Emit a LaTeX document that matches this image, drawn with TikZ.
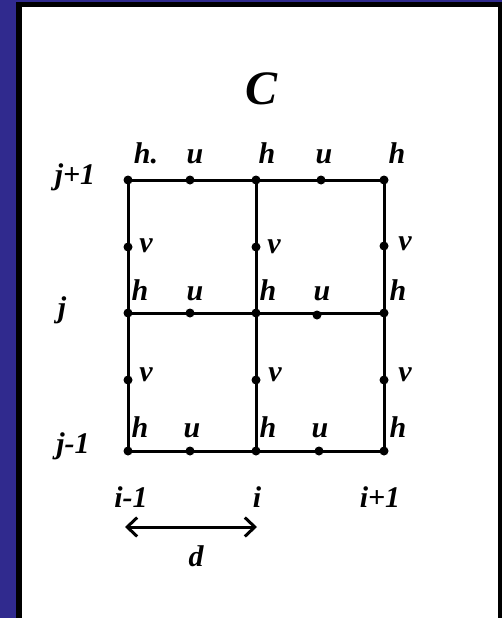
\documentclass[tikz,border=0pt]{standalone}
\usepackage{fontspec}
\setmainfont{Liberation Serif}
\usetikzlibrary{arrows.meta}
\definecolor{bluebg}{RGB}{48,42,142}
\begin{document}
\begin{tikzpicture}[x=1pt,y=-1pt,
  lbl/.style={font=\fontsize{30}{30}\selectfont\bfseries\itshape, inner sep=0pt},
  lblb/.style={lbl, anchor=base},
  dot/.style={circle, fill=black, inner sep=0pt, minimum size=9pt},
  gridline/.style={line width=3pt, line cap=round, line join=round}]
\useasboundingbox (0,0) rectangle (502,618);
\fill[bluebg] (0,0) rectangle (502,618);
\fill[black] (16,2) rectangle (502,618);
\fill[white] (22,7) rectangle (498,618);

% grid points
\node[dot] (a1) at (128,180) {};
\node[dot] (b1) at (256,180) {};
\node[dot] (c1) at (384,180) {};
\node[dot] (a2) at (128,313) {};
\node[dot] (b2) at (256,313) {};
\node[dot] (c2) at (384,313) {};
\node[dot] (a3) at (128,451) {};
\node[dot] (b3) at (256,451) {};
\node[dot] (c3) at (384,451) {};

\draw[gridline] (a1.center) -- (c1.center) -- (c3.center) -- (a3.center) -- cycle;
\draw[gridline] (a2.center) -- (c2.center);
\draw[gridline] (b1.center) -- (b3.center);

% u points
\node[dot] (u11) at (190,180) {};
\node[dot] (u21) at (321,180) {};
\node[dot] (u12) at (190,313) {};
\node[dot] (u22) at (317,315) {};
\node[dot] (u13) at (190,451) {};
\node[dot] (u23) at (319,451) {};
% v points
\node[dot] (v11) at (128,247) {};
\node[dot] (v21) at (256,247) {};
\node[dot] (v31) at (384,246) {};
\node[dot] (v12) at (128,380) {};
\node[dot] (v22) at (256,380) {};
\node[dot] (v32) at (384,380) {};

% title
\node[lbl, font=\fontsize{48}{48}\selectfont\bfseries\itshape] (title) at (262,89) {C};

% top row labels
\node[lblb] (th1) at (146,163) {h.};
\node[lblb] (tu1) at (195,163) {u};
\node[lblb] (th2) at (267,163) {h};
\node[lblb] (tu2) at (324,163) {u};
\node[lblb] (th3) at (397,163) {h};
% middle row labels
\node[lblb] (mh1) at (140,300) {h};
\node[lblb] (mu1) at (195,300) {u};
\node[lblb] (mh2) at (268,300) {h};
\node[lblb] (mu2) at (322,300) {u};
\node[lblb] (mh3) at (398,300) {h};
% bottom row labels
\node[lblb] (bh1) at (140,437) {h};
\node[lblb] (bu1) at (192,437) {u};
\node[lblb] (bh2) at (268,437) {h};
\node[lblb] (bu2) at (320,437) {u};
\node[lblb] (bh3) at (398,437) {h};
% v labels
\node[lbl] (vl11) at (146,246) {v};
\node[lbl] (vl21) at (274,247) {v};
\node[lbl] (vl31) at (405,244) {v};
\node[lbl] (vl12) at (146,375) {v};
\node[lbl] (vl22) at (275,375) {v};
\node[lbl] (vl32) at (405,375) {v};

% row labels
\node[lblb] (jp) at (75,184) {j+1};
\node[lblb] (j0) at (62,317) {j};
\node[lblb] (jm) at (73,453) {j-1};
% column labels
\node[lblb] (im) at (131,507) {i-1};
\node[lblb] (i0) at (257,507) {i};
\node[lblb] (ip) at (380,507) {i+1};

% spacing arrow
\coordinate (dl) at (125,527);
\coordinate (dr) at (257,527);
\draw[line width=3pt, {Straight Barb[length=10pt,width=19pt]}-{Straight Barb[length=10pt,width=19pt]}] (dl) -- (dr);
\node[lblb] (dlab) at (196,566) {d};
\end{tikzpicture}
\end{document}
